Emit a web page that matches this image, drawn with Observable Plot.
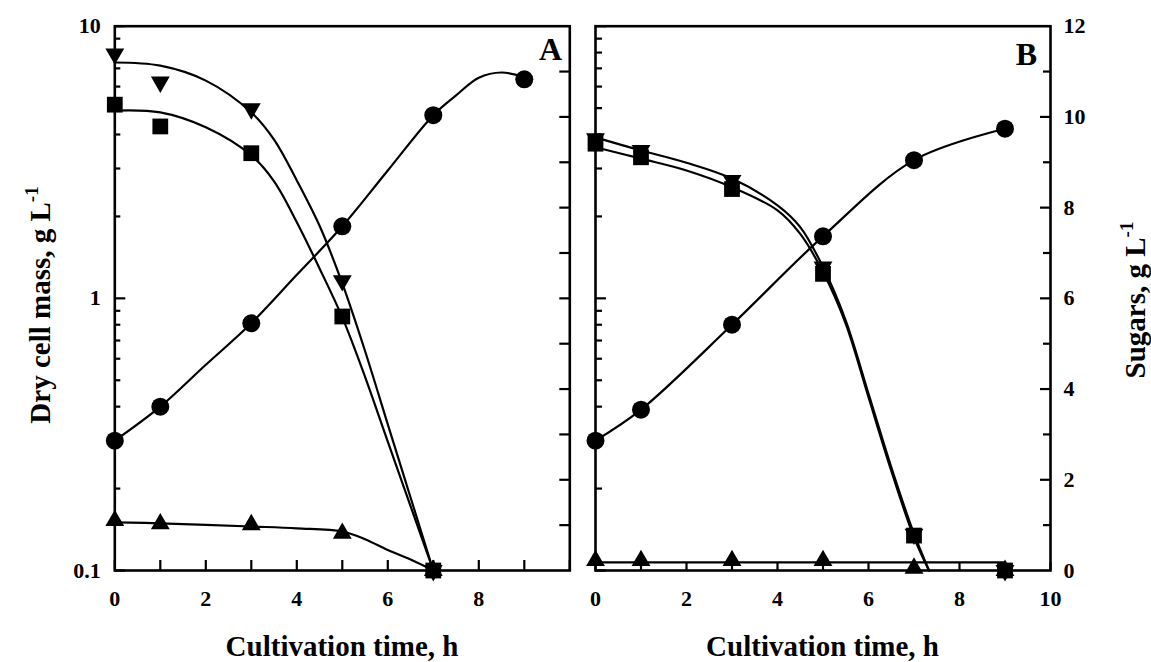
<!DOCTYPE html>
<html><head><meta charset="utf-8">
<script src="https://cdn.jsdelivr.net/npm/d3@7"></script>
<script src="https://cdn.jsdelivr.net/npm/@observablehq/plot@0.6"></script>
<style>
html,body{margin:0;padding:0;background:#fff;}
#wrap{position:relative;width:1151px;height:662px;overflow:hidden;}
#wrap svg{position:absolute;top:0;}
</style></head><body><div id="wrap"></div>
<script>
// ---------- Panel A data ----------
const sampleTimeA = [0, 1, 3, 5, 7];
const dcmTimeA = [0, 1, 3, 5, 7, 9];
const dcmA = [0.30, 0.40, 0.81, 1.84, 4.71, 6.38];          // g/L, log axis
const downTriA = [11.39, 10.77, 10.18, 6.39, 0];             // sugars g/L
const squareA = [10.27, 9.79, 9.20, 5.60, 0];
const upTriA = [1.10, 1.03, 1.01, 0.82, 0];
// fitted curves (panel A)
const fitTimeA = [0, 1, 2, 3, 3.5, 4, 4.5, 5, 5.5, 6, 6.5, 7];
const fitDownA = [11.2, 11.13, 10.8, 10.1, 9.5, 8.6, 7.6, 6.33, 4.84, 3.22, 1.61, 0];
const fitSquareA = [10.14, 10.1, 9.77, 9.15, 8.58, 7.68, 6.66, 5.58, 4.27, 2.84, 1.42, 0];
const fitUpTimeA = [0, 1, 3, 4, 5, 5.5, 6, 6.5, 7];
const fitUpA = [1.06, 1.04, 0.97, 0.93, 0.86, 0.69, 0.45, 0.24, 0];
const fitDcmTimeA = [0, 1, 2, 3, 4, 5, 6, 7, 7.5, 8, 8.5, 9];
const fitDcmA = [0.30, 0.40, 0.57, 0.81, 1.22, 1.84, 2.95, 4.71, 5.57, 6.47, 6.76, 6.5];

// ---------- Panel B data ----------
const timeB = [0, 1, 3, 5, 7, 9];
const dcmB = [0.30, 0.39, 0.80, 1.69, 3.22, 4.20];
const downTriB = [9.52, 9.26, 8.60, 6.69, 0.80, 0];
const squareB = [9.41, 9.11, 8.41, 6.54, 0.77, 0];
const upTriB = [0.22, 0.22, 0.22, 0.22, 0.05, 0];
const fitTimeB = [0, 1, 2, 3, 4, 4.5, 5, 5.5, 6, 6.5, 7, 7.33];
const fitDownB = [9.55, 9.26, 8.99, 8.64, 8.05, 7.57, 6.69, 5.51, 3.9, 2.28, 0.81, 0];
const fitSquareB = [9.33, 9.08, 8.82, 8.45, 7.94, 7.42, 6.58, 5.44, 3.82, 2.2, 0.73, 0];
const fitUpTimeB = [0, 9];
const fitUpB = [0.18, 0.18];

// ---------- ticks / labels ----------
const xTickValues = [0, 1, 2, 3, 4, 5, 6, 7, 8, 9, 10];
const xLabelsA = ["0", "2", "4", "6", "8"];
const xLabelsB = ["0", "2", "4", "6", "8", "10"];
const logMajor = [0.1, 1, 10];
const logLabels = ["0.1", "1", "10"];
const logMinor = [0.2, 0.3, 0.4, 0.5, 0.6, 0.7, 0.8, 0.9, 2, 3, 4, 5, 6, 7, 8, 9];
const sugarMinor = [1, 3, 5, 7, 9, 11];
const sugarMajor = [2, 4, 6, 8, 10];
const sugarLabels = ["0", "2", "4", "6", "8", "10", "12"];
const xTitle = "Cultivation time, h";
const yTitleLeft = "Dry cell mass, g L";
const yTitleRight = "Sugars, g L";

// ---------- helpers ----------
const toLin = v => 6 * (Math.log10(v) + 1);   // log 0.1..10 -> sugar axis 0..12
const rows = (xs, ys) => xs.map((x, i) => ({x, y: ys[i]}));
const logRows = (xs, ys) => xs.map((x, i) => ({x, y: toLin(ys[i])}));

const H = 662, MT = 25.7, MB = 92;
const FH = H - MT - MB;
const font = "'Liberation Serif', 'Times New Roman', serif";
const baseStyle = {fontFamily: font, fontWeight: "bold", fontSize: "22px", color: "black", background: "transparent", overflow: "visible"};

function seriesMarks(s) {
  return [
    Plot.line(s.fitDcm, {x: "x", y: "y", curve: "catmull-rom", strokeWidth: 2.2}),
    Plot.line(s.fitDown, {x: "x", y: "y", curve: "catmull-rom", strokeWidth: 2.2}),
    Plot.line(s.fitSquare, {x: "x", y: "y", curve: "catmull-rom", strokeWidth: 2.2}),
    Plot.line(s.fitUp, {x: "x", y: "y", curve: "catmull-rom", strokeWidth: 2.2}),
    Plot.dot(s.dcm, {x: "x", y: "y", r: 9, symbol: "circle", fill: "black"}),
    Plot.dot(s.square, {x: "x", y: "y", r: 8.9, symbol: "square", fill: "black"}),
    Plot.dot(s.down, {x: "x", y: "y", r: 7, symbol: "triangle", rotate: 180, fill: "black"}),
    Plot.dot(s.up, {x: "x", y: "y", r: 7, symbol: "triangle", fill: "black"})
  ];
}

// ---------- Panel A ----------
const WA = 582, mlA = 114.3, mrA = WA - 569.3;
const FWA = WA - mlA - mrA;
const plotA = Plot.plot({
  width: WA, height: H, marginLeft: mlA, marginRight: mrA, marginTop: MT, marginBottom: MB,
  x: {domain: [0, 10], axis: null}, y: {domain: [0, 12], axis: null},
  style: baseStyle,
  marks: [
    ...seriesMarks({
      fitDcm: logRows(fitDcmTimeA, fitDcmA),
      fitDown: rows(fitTimeA, fitDownA),
      fitSquare: rows(fitTimeA, fitSquareA),
      fitUp: rows(fitUpTimeA, fitUpA),
      dcm: logRows(dcmTimeA, dcmA),
      square: rows(sampleTimeA, squareA),
      down: rows(sampleTimeA, downTriA),
      up: rows(sampleTimeA, upTriA)
    }),
    Plot.tickX(xTickValues, {x: d => d, insetTop: FH - 10, strokeWidth: 2.2}),
    Plot.tickY(logMinor, {y: toLin, insetRight: FWA - 6, strokeWidth: 2.2}),
    Plot.tickY(logMajor, {y: toLin, insetRight: FWA - 11, strokeWidth: 2.2}),
    Plot.tickY([...sugarMinor, ...sugarMajor], {y: d => d, insetLeft: FWA - 10, strokeWidth: 2.2}),
    Plot.text(logLabels, {y: (d, i) => toLin(logMajor[i]), text: d => d, frameAnchor: "left", textAnchor: "end", dx: -14, fontSize: 22}),
    Plot.text(xLabelsA, {x: d => +d, text: d => d, frameAnchor: "bottom", lineAnchor: "top", dy: 20, fontSize: 22}),
    Plot.frame({strokeWidth: 2.6})
  ]
});

// ---------- Panel B ----------
const offB = 582;
const WB = 1151 - offB, mlB = 595 - offB, mrB = 1151 - 1050;
const FWB = WB - mlB - mrB;
const plotB = Plot.plot({
  width: WB, height: H, marginLeft: mlB, marginRight: mrB, marginTop: MT, marginBottom: MB,
  x: {domain: [0, 10], axis: null}, y: {domain: [0, 12], axis: null},
  style: baseStyle,
  marks: [
    ...seriesMarks({
      fitDcm: logRows(timeB, dcmB),
      fitDown: rows(fitTimeB, fitDownB),
      fitSquare: rows(fitTimeB, fitSquareB),
      fitUp: rows(fitUpTimeB, fitUpB),
      dcm: logRows(timeB, dcmB),
      square: rows(timeB, squareB),
      down: rows(timeB, downTriB),
      up: rows(timeB, upTriB)
    }),
    Plot.tickX(xTickValues, {x: d => d, insetTop: FH - 8, strokeWidth: 2.2}),
    Plot.tickY(logMinor, {y: toLin, insetRight: FWB - 7, strokeWidth: 2.2}),
    Plot.tickY(logMajor, {y: toLin, insetRight: FWB - 11, strokeWidth: 2.2}),
    Plot.tickY(sugarMinor, {y: d => d, insetLeft: FWB - 7, strokeWidth: 2.2}),
    Plot.tickY(sugarMajor, {y: d => d, insetLeft: FWB - 10, strokeWidth: 2.2}),
    Plot.text(sugarLabels, {y: d => +d, text: d => d, frameAnchor: "right", textAnchor: "start", dx: 13, fontSize: 22}),
    Plot.text(xLabelsB, {x: d => +d, text: d => d, frameAnchor: "bottom", lineAnchor: "top", dy: 20, fontSize: 22}),
    Plot.frame({strokeWidth: 2.6})
  ]
});

const wrap = document.getElementById("wrap");
plotA.style.left = "0px";
plotB.style.left = offB + "px";
wrap.appendChild(plotA);
wrap.appendChild(plotB);

function addTitle(svg, x, y, rotate, main, sup, size) {
  const t = d3.select(svg).append("text")
    .attr("transform", `translate(${x},${y})` + (rotate ? ` rotate(${rotate})` : ""))
    .attr("text-anchor", "middle")
    .attr("fill", "black")
    .style("font-family", font).style("font-weight", "bold").style("font-size", size + "px");
  t.append("tspan").text(main);
  if (sup) t.append("tspan").attr("dy", -12).style("font-size", "19px").text(sup);
}
addTitle(plotA, 50, 305, -90, yTitleLeft, "-1", 29);
addTitle(plotB, 1145 - offB, 300, -90, yTitleRight, "-1", 29);
addTitle(plotA, 342, 656, 0, xTitle, null, 29);
addTitle(plotB, 822.5 - offB, 656, 0, xTitle, null, 29);

function addLetter(svg, x, y, s) {
  d3.select(svg).append("text").attr("x", x).attr("y", y).attr("text-anchor", "end").attr("fill", "black")
    .style("font-family", font).style("font-weight", "bold").style("font-size", "32px").text(s);
}
addLetter(plotA, 562, 59.5, "A");
addLetter(plotB, 1037 - offB, 65, "B");
</script></body></html>
